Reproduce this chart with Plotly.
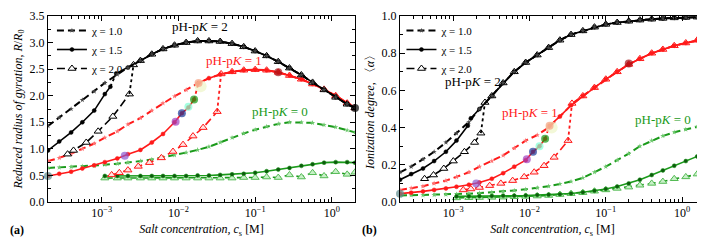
import math
import plotly.graph_objects as go

# ---------------- data ----------------
cs_grid = [0.0002, 0.00028, 0.0004, 0.00056, 0.0008, 0.0011, 0.0016, 0.0022, 0.0032, 0.0045,
           0.0063, 0.0089, 0.0126, 0.0178, 0.025, 0.035, 0.05, 0.071, 0.1, 0.141,
           0.2, 0.28, 0.4, 0.56, 0.79, 1.12, 1.58, 2.0]

# panel (a): reduced radius of gyration R/R0
R_black_chi10 = [1.43, 1.59, 1.75, 1.92, 2.08, 2.24, 2.40, 2.53, 2.66, 2.78, 2.88, 2.95, 3.00, 3.03,
                 3.03, 3.02, 2.98, 2.92, 2.84, 2.75, 2.64, 2.52, 2.39, 2.25, 2.11, 1.97, 1.84, 1.77]
cs_black_chi15_pre = [0.0002, 0.00028, 0.0004, 0.00056, 0.0008, 0.0011, 0.0013]
R_black_chi15_pre = [0.97, 1.14, 1.31, 1.50, 1.72, 2.03, 2.17]
cs_black_chi15_jump = [0.0013, 0.00155]
R_black_chi15_jump = [2.17, 2.42]
cs_black_chi20_pre = [0.00036, 0.00043, 0.00063, 0.0009, 0.0014, 0.0023]
R_black_chi20_pre = [0.90, 0.97, 1.12, 1.33, 1.61, 2.03]
cs_black_chi20_jump = [0.0023, 0.0026]
R_black_chi20_jump = [2.03, 2.58]

R_red_chi10 = [0.77, 0.83, 0.91, 1.00, 1.10, 1.21, 1.33, 1.46, 1.58, 1.72, 1.86, 1.99, 2.11, 2.23,
               2.33, 2.40, 2.45, 2.48, 2.49, 2.48, 2.44, 2.38, 2.31, 2.22, 2.12, 2.00, 1.86, 1.77]
cs_red_chi15_pre = [0.0002, 0.00028, 0.0004, 0.00056, 0.0008, 0.0011, 0.0016, 0.0022, 0.0032,
                    0.0045, 0.0063, 0.0089, 0.0111, 0.0135, 0.016]
R_red_chi15_pre = [0.49, 0.53, 0.57, 0.63, 0.69, 0.75, 0.82, 0.90, 0.98, 1.12, 1.28, 1.50, 1.67, 1.78, 1.93]
cs_red_chi15_jump = [0.016, 0.0183]
R_red_chi15_jump = [1.93, 2.24]
cs_red_chi20_pre = [0.00135, 0.0017, 0.0022, 0.003, 0.0042, 0.006, 0.0085, 0.0115, 0.0155, 0.021, 0.032]
R_red_chi20_pre = [0.51, 0.55, 0.60, 0.67, 0.74, 0.83, 0.95, 1.08, 1.24, 1.40, 1.70]
cs_red_chi20_jump = [0.032, 0.036]
R_red_chi20_jump = [1.70, 2.41]

R_green_chi10 = [0.64, 0.65, 0.66, 0.67, 0.68, 0.70, 0.72, 0.74, 0.77, 0.80, 0.84, 0.88, 0.93, 0.98,
                 1.04, 1.12, 1.21, 1.29, 1.36, 1.42, 1.47, 1.50, 1.50, 1.49, 1.45, 1.41, 1.35, 1.31]
R_green_chi15 = [0.49, 0.49, 0.49, 0.49, 0.49, 0.49, 0.49, 0.49, 0.50, 0.50, 0.51, 0.52, 0.53, 0.55,
                 0.58, 0.61, 0.64, 0.68, 0.71, 0.74, 0.75, 0.75, 0.74]
R_green_chi20 = [0.45, 0.45, 0.45, 0.45, 0.45, 0.45, 0.45, 0.45, 0.45, 0.45, 0.45, 0.45, 0.46, 0.46,
                 0.47, 0.46, 0.51, 0.47, 0.55, 0.49, 0.57, 0.52, 0.56]

# panel (b): ionization degree <alpha>
A_black_chi10 = [0.16, 0.19, 0.23, 0.27, 0.32, 0.37, 0.43, 0.50, 0.57, 0.64, 0.70, 0.75, 0.79, 0.83,
                 0.87, 0.90, 0.92, 0.94, 0.955, 0.965, 0.972, 0.978, 0.983, 0.987, 0.99, 0.992, 0.994, 0.995]
cs_black_chi15_pre_b = [0.0002, 0.00028, 0.0004, 0.00056, 0.0008, 0.0011, 0.00155]
A_black_chi15_pre = [0.12, 0.15, 0.18, 0.22, 0.27, 0.33, 0.41]
cs_black_chi15_jump_b = [0.00155, 0.0017]
A_black_chi15_jump = [0.41, 0.45]
cs_black_chi20_pre_b = [0.00042, 0.00055, 0.00075, 0.001, 0.0014, 0.0019, 0.0023]
A_black_chi20_pre = [0.125, 0.145, 0.18, 0.22, 0.27, 0.32, 0.37]
cs_black_chi20_jump_b = [0.0023, 0.0026]
A_black_chi20_jump = [0.37, 0.535]

A_red_chi10 = [0.065, 0.075, 0.085, 0.10, 0.115, 0.135, 0.16, 0.19, 0.22, 0.25, 0.29, 0.33, 0.36, 0.40,
               0.46, 0.52, 0.57, 0.615, 0.66, 0.70, 0.74, 0.77, 0.80, 0.82, 0.84, 0.855, 0.87, 0.877]
A_red_chi15_pre = [0.045, 0.05, 0.057, 0.065, 0.073, 0.082, 0.093, 0.105, 0.125, 0.155, 0.19, 0.225,
                   0.27, 0.30, 0.34]
A_red_chi15_jump = [0.34, 0.41]
A_red_chi20_pre = [0.065, 0.07, 0.078, 0.088, 0.10, 0.115, 0.135, 0.16, 0.195, 0.24, 0.33]
A_red_chi20_jump = [0.33, 0.53]

A_green_chi10 = [0.035, 0.036, 0.037, 0.038, 0.04, 0.042, 0.045, 0.048, 0.052, 0.056, 0.062, 0.068,
                 0.076, 0.085, 0.097, 0.11, 0.13, 0.16, 0.19, 0.225, 0.26, 0.30, 0.33, 0.355, 0.375,
                 0.39, 0.405, 0.41]
A_green_chi15 = [0.03, 0.03, 0.031, 0.032, 0.033, 0.034, 0.035, 0.037, 0.039, 0.042, 0.046, 0.052,
                 0.06, 0.07, 0.083, 0.10, 0.12, 0.145, 0.17, 0.195, 0.22, 0.245, 0.26]
A_green_chi20 = [0.022, 0.023, 0.024, 0.025, 0.026, 0.028, 0.03, 0.032, 0.035, 0.04, 0.045, 0.05,
                 0.058, 0.065, 0.073, 0.08, 0.09, 0.10, 0.11, 0.125, 0.135, 0.15, 0.165]

# highlighted states on the pH-pK = 1, chi = 1.5 curve
dot_cs = [0.0195, 0.0002, 0.002, 0.0092, 0.0111, 0.0135, 0.016, 0.0183, 0.2, 2.0]
dot_R = [2.18, 0.49, 0.87, 1.51, 1.67, 1.79, 1.93, 2.24, 2.44, 1.77]
dot_alpha = [0.40, 0.045, 0.10, 0.23, 0.27, 0.30, 0.34, 0.41, 0.745, 0.877]
dot_colors = ["#eef5c8", "#5f8c8c", "#8a58d0", "#a040c0", "#1a3a9a", "#7fffd4", "#119911",
              "#f5a383", "#a50f15", "#000000"]

chi_labels = ["χ = 1.0", "χ = 1.5", "χ = 2.0"]
tick_vals = [0.001, 0.01, 0.1, 1]
tick_text = ["10<sup>−3</sup>", "10<sup>−2</sup>", "10<sup>−1</sup>", "10<sup>0</sup>"]

# ---------------- styling ----------------
FONT = "Liberation Serif, Times New Roman, serif"
COL = {"black": "#000000", "red": "#ff1a1a", "green": "#1a9a1a"}
LIGHT = {"black": "#444444", "red": "#ff7070", "green": "#6cc86c"}
TRIFILL = {"black": "#ffffff", "red": "#ffe4e4", "green": "#c8f0c8"}

fig = go.Figure()


def add(x, y, xa, ya, color, kind, legend=None, name=None, show=False):
    if kind == "chi10":
        line = dict(color=COL[color], width=2, dash="7px,4px")
        marker = dict(symbol="star", size=4, color=LIGHT[color], line=dict(width=0))
        mode = "lines+markers"
    elif kind == "chi15":
        line = dict(color=COL[color], width=1.6)
        marker = dict(symbol="circle", size=4, color=COL[color] if color != "green" else "#0d5a0d",
                      line=dict(width=0.5, color=COL[color]))
        mode = "lines+markers"
    elif kind == "chi20":
        line = dict(color=COL[color], width=1.6, dash="8px,4px")
        marker = dict(symbol="triangle-up", size=7, color=TRIFILL[color],
                      line=dict(width=1, color=COL[color] if color != "green" else "#55bb55"))
        mode = "lines+markers"
    else:  # dotted transition
        line = dict(color=COL[color], width=1.8, dash="dot")
        marker = None
        mode = "lines"
    tr = go.Scatter(x=x, y=y, xaxis=xa, yaxis=ya, mode=mode, line=line,
                    showlegend=show, name=name, hoverinfo="skip")
    if marker is not None:
        tr.marker = marker
    if legend:
        tr.legend = legend
    fig.add_trace(tr)


for xa, ya, leg, vals in [("x", "y", "legend", "a"), ("x2", "y2", "legend2", "b")]:
    if vals == "a":
        b10, b15p, b15j, b20p, b20j = R_black_chi10, R_black_chi15_pre, R_black_chi15_jump, R_black_chi20_pre, R_black_chi20_jump
        cb15p, cb15j, cb20p, cb20j = cs_black_chi15_pre, cs_black_chi15_jump, cs_black_chi20_pre, cs_black_chi20_jump
        r10, r15p, r15j, r20p, r20j = R_red_chi10, R_red_chi15_pre, R_red_chi15_jump, R_red_chi20_pre, R_red_chi20_jump
        g10, g15, g20 = R_green_chi10, R_green_chi15, R_green_chi20
        dvals = dot_R
    else:
        b10, b15p, b15j, b20p, b20j = A_black_chi10, A_black_chi15_pre, A_black_chi15_jump, A_black_chi20_pre, A_black_chi20_jump
        cb15p, cb15j, cb20p, cb20j = cs_black_chi15_pre_b, cs_black_chi15_jump_b, cs_black_chi20_pre_b, cs_black_chi20_jump_b
        r10, r15p, r15j, r20p, r20j = A_red_chi10, A_red_chi15_pre, A_red_chi15_jump, A_red_chi20_pre, A_red_chi20_jump
        g10, g15, g20 = A_green_chi10, A_green_chi15, A_green_chi20
        dvals = dot_alpha

    # green, pH-pK = 0
    add(cs_grid, g10, xa, ya, "green", "chi10")
    add(cs_grid[5:], g20, xa, ya, "green", "chi20")
    add(cs_grid[5:], g15, xa, ya, "green", "chi15")
    # red, pH-pK = 1
    add(cs_red_chi20_pre, r20p, xa, ya, "red", "chi20")
    add(cs_red_chi20_jump, r20j, xa, ya, "red", "dot")
    add([cs_red_chi20_jump[1]] + cs_grid[16:], [r20j[1]] + r10[16:], xa, ya, "red", "chi20")
    add(cs_grid, r10, xa, ya, "red", "chi10")
    add(cs_red_chi15_pre, r15p, xa, ya, "red", "chi15")
    add(cs_red_chi15_jump, r15j, xa, ya, "red", "dot")
    add([cs_red_chi15_jump[1]] + cs_grid[14:], [r15j[1]] + r10[14:], xa, ya, "red", "chi15")
    # black, pH-pK = 2
    add(cb20p, b20p, xa, ya, "black", "chi20")
    add(cb20j, b20j, xa, ya, "black", "dot")
    add([cb20j[1]] + cs_grid[8:], [b20j[1]] + b10[8:], xa, ya, "black", "chi20")
    add(cb15p, b15p, xa, ya, "black", "chi15")
    add(cb15j, b15j, xa, ya, "black", "dot")
    add([cb15j[1]] + cs_grid[7:], [b15j[1]] + b10[7:], xa, ya, "black", "chi15")
    add(cs_grid, b10, xa, ya, "black", "chi10")
    # legend entries
    add([None], [None], xa, ya, "black", "chi10", legend=leg, name=chi_labels[0], show=True)
    add([None], [None], xa, ya, "black", "chi15", legend=leg, name=chi_labels[1], show=True)
    add([None], [None], xa, ya, "black", "chi20", legend=leg, name=chi_labels[2], show=True)
    # highlighted states
    fig.add_trace(go.Scatter(x=dot_cs, y=dvals, xaxis=xa, yaxis=ya, mode="markers",
                             marker=dict(size=[12] + [8] * 9, color=dot_colors, line=dict(width=0)),
                             showlegend=False, hoverinfo="skip", cliponaxis=False))

minor_vals = [m * 10 ** e for e in range(-4, 1) for m in range(2, 10)]
xrange = [math.log10(2e-4), math.log10(2.0)]

axis_common = dict(showline=True, linecolor="black", linewidth=1, mirror="allticks",
                   ticks="inside", ticklen=5, tickcolor="black", showgrid=False, zeroline=False,
                   automargin=False, ticklabeloverflow="allow",
                   tickfont=dict(family=FONT, size=12, color="black"))

xcommon = dict(axis_common, type="log", range=xrange, tickmode="array", tickvals=tick_vals,
               ticktext=tick_text,
               minor=dict(tickmode="array", tickvals=minor_vals, ticks="inside", ticklen=3,
                          tickcolor="black", showgrid=False))
xtitle = dict(text="<i>Salt concentration, c</i><sub>s</sub> [M]",
              font=dict(family=FONT, size=12, color="black"), standoff=5)

leg_common = dict(xanchor="left", yanchor="top", bgcolor="rgba(0,0,0,0)",
                  font=dict(family=FONT, size=11, color="black"), tracegroupgap=0,
                  traceorder="normal")

fig.update_layout(
    width=705, height=240,
    margin=dict(l=40, r=8, t=8, b=46, autoexpand=False),
    paper_bgcolor="white", plot_bgcolor="white",
    font=dict(family=FONT, size=12, color="black"),
    xaxis=dict(xcommon, domain=[0, 0.4673], anchor="y", title=xtitle),
    xaxis2=dict(xcommon, domain=[0.5358, 1], anchor="y2", title=xtitle),
    yaxis=dict(axis_common, range=[0, 3.5], dtick=0.5, tickformat=".1f", anchor="x",
               minor=dict(dtick=0.25, ticks="inside", ticklen=3, tickcolor="black", showgrid=False),
               title=dict(text="<i>Reduced radius of gyration, R</i>/<i>R</i><sub>0</sub>",
                          font=dict(family=FONT, size=12, color="black"), standoff=4)),
    yaxis2=dict(axis_common, range=[0, 1.0], dtick=0.2, tickformat=".1f", anchor="x2",
                minor=dict(dtick=0.1, ticks="inside", ticklen=3, tickcolor="black", showgrid=False),
                title=dict(text="<i>Ionization degree, </i>〈<i>α</i>〉",
                           font=dict(family=FONT, size=12, color="black"), standoff=4)),
    legend=dict(leg_common, x=0.006, y=1.0),
    legend2=dict(leg_common, x=0.538, y=1.0),
)

ann_font = lambda c: dict(family=FONT, size=13, color=c)
annotations = [
    dict(x=-1.72, y=3.31, xref="x", yref="y", text="pH-p<i>K</i> = 2", font=ann_font("black")),
    dict(x=-1.28, y=2.67, xref="x", yref="y", text="pH-p<i>K</i> = 1", font=ann_font(COL["red"])),
    dict(x=-0.68, y=1.70, xref="x", yref="y", text="pH-p<i>K</i> = 0", font=ann_font(COL["green"])),
    dict(x=-2.74, y=0.647, xref="x2", yref="y2", text="pH-p<i>K</i> = 2", font=ann_font("black")),
    dict(x=-2.00, y=0.48, xref="x2", yref="y2", text="pH-p<i>K</i> = 1", font=ann_font(COL["red"])),
    dict(x=-0.25, y=0.444, xref="x2", yref="y2", text="pH-p<i>K</i> = 0", font=ann_font(COL["green"])),
    dict(x=-0.061, y=-0.2, xref="paper", yref="paper", text="<b>(a)</b>", xanchor="left",
         font=dict(family=FONT, size=12, color="black")),
    dict(x=0.475, y=-0.2, xref="paper", yref="paper", text="<b>(b)</b>", xanchor="left",
         font=dict(family=FONT, size=12, color="black")),
]
for a in annotations:
    a.setdefault("showarrow", False)
fig.update_layout(annotations=annotations)

fig.write_html("out.html")
